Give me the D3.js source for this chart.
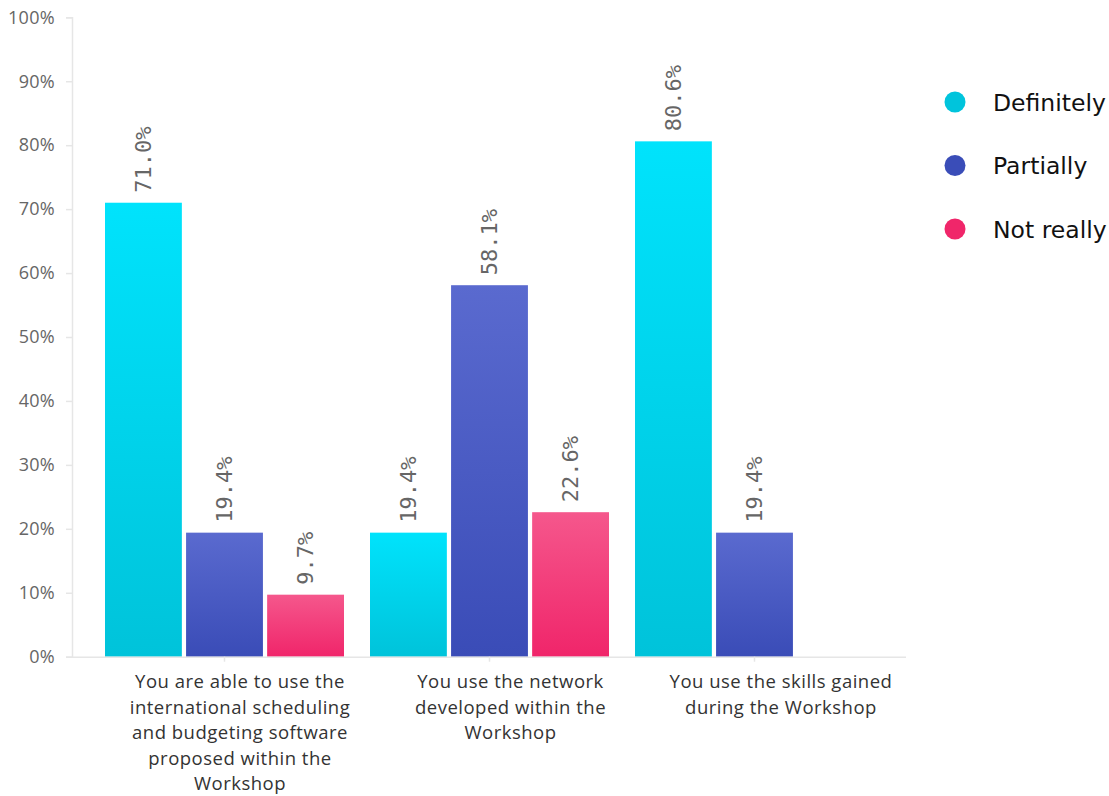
<!DOCTYPE html>
<html>
<head>
<meta charset="utf-8">
<script src="https://cdn.jsdelivr.net/npm/d3@7/dist/d3.min.js"></script>
<style>
  html, body { margin: 0; padding: 0; background: #fff; }
  svg { display: block; }
</style>
</head>
<body>
<svg id="chart" width="1109" height="796"></svg>
<script>
// Survey questions (x categories), answer series and their values (%)
const categories = [
  ["You are able to use the", "international scheduling", "and budgeting software", "proposed within the", "Workshop"],
  ["You use the network", "developed within the", "Workshop"],
  ["You use the skills gained", "during the Workshop"]
];
const seriesNames = ["Definitely", "Partially", "Not really"];
const definitely = [71.0, 19.4, 80.6];
const partially  = [19.4, 58.1, 19.4];
const notReally  = [9.7, 22.6, null];
const yTicks = [0, 10, 20, 30, 40, 50, 60, 70, 80, 90, 100];

const seriesValues = [definitely, partially, notReally];
const colors = [
  { top: "#00e3fc", bottom: "#00c3da", solid: "#00c4dc" },
  { top: "#5a6acf", bottom: "#3a4cb7", solid: "#3a4db8" },
  { top: "#f5578c", bottom: "#f0256a", solid: "#f0266a" }
];

const svg = d3.select("#chart");
const axisLeft = 72, axisRight = 906;
const yTop = 17.3, yBottom = 656.7;

const x0 = d3.scaleBand().domain(d3.range(categories.length)).range([92, 887]).paddingInner(0).paddingOuter(0);
const x1 = d3.scaleBand().domain(d3.range(seriesNames.length)).range([13, x0.bandwidth() - 13]).paddingInner(0.052);
const y = d3.scaleLinear().domain([0, 100]).range([yBottom, yTop]);
// Category label anchors (labels sit slightly right of their tick marks)
const xLabel = d3.scalePoint().domain(d3.range(categories.length)).range([240, 781]);

// Vertical gradients for each series
const defs = svg.append("defs");
colors.forEach((c, i) => {
  const g = defs.append("linearGradient").attr("id", "grad" + i)
    .attr("x1", 0).attr("y1", 0).attr("x2", 0).attr("y2", 1);
  g.append("stop").attr("offset", "0%").attr("stop-color", c.top);
  g.append("stop").attr("offset", "100%").attr("stop-color", c.bottom);
});

// Y axis
const yAxis = svg.append("g")
  .attr("transform", `translate(${axisLeft},0)`)
  .call(d3.axisLeft(y).tickValues(yTicks).tickFormat(d => d + "%").tickSize(6).tickPadding(11));
yAxis.select(".domain").attr("stroke", "#e6e6e6").attr("stroke-width", 1.5);
yAxis.selectAll(".tick line").attr("stroke", "#e6e6e6").attr("stroke-width", 1.5);
yAxis.selectAll(".tick text")
  .attr("fill", "#666")
  .style("font-family", "'Open Sans', 'Noto Sans', sans-serif")
  .style("font-size", "18px")
  .style("letter-spacing", "0.3px");

// Bars
const groups = svg.append("g").selectAll("g")
  .data(categories.map((c, i) => i))
  .join("g")
  .attr("transform", i => `translate(${x0(i)},0)`);

groups.each(function(ci) {
  const g = d3.select(this);
  seriesValues.forEach((vals, si) => {
    const v = vals[ci];
    if (v == null) return;
    g.append("rect")
      .attr("x", x1(si))
      .attr("width", x1.bandwidth())
      .attr("y", y(v))
      .attr("height", y(0) - y(v))
      .attr("fill", `url(#grad${si})`);
    const lx = x1(si) + x1.bandwidth() / 2;
    const ly = y(v) - 10;
    g.append("text")
      .attr("transform", `translate(${lx + 7.5},${ly}) rotate(-90)`)
      .attr("text-anchor", "start")
      .attr("fill", "#666")
      .style("font-family", "'DejaVu Sans Mono', monospace")
      .style("font-size", "22px")
      .text(v.toFixed(1) + "%");
  });
});

// Baseline and category ticks
svg.append("line")
  .attr("x1", axisLeft).attr("x2", axisRight)
  .attr("y1", yBottom + 0.5).attr("y2", yBottom + 0.5)
  .attr("stroke", "#e6e6e6").attr("stroke-width", 1.5);
categories.forEach((c, i) => {
  const cx = x0(i) + x0.bandwidth() / 2;
  svg.append("line")
    .attr("x1", cx).attr("x2", cx)
    .attr("y1", yBottom).attr("y2", yBottom + 5)
    .attr("stroke", "#e6e6e6").attr("stroke-width", 1.5);
  const lx = xLabel(i);
  const t = svg.append("text")
    .attr("text-anchor", "middle")
    .attr("fill", "#333")
    .style("font-family", "'Open Sans', 'Noto Sans', sans-serif")
    .style("font-size", "18.5px")
    .style("letter-spacing", "0.5px");
  c.forEach((line, li) => {
    t.append("tspan").attr("x", lx).attr("y", 688 + li * 25.6).text(line);
  });
});

// Legend
const legend = svg.append("g");
seriesNames.forEach((name, i) => {
  const ly = 102 + i * 63.5;
  legend.append("circle").attr("cx", 955).attr("cy", ly).attr("r", 10.5).attr("fill", colors[i].solid);
  legend.append("text")
    .attr("x", 993).attr("y", ly + 8.5)
    .attr("fill", "#111")
    .style("font-family", "'DejaVu Sans', sans-serif")
    .style("font-size", "23.5px")
    .text(name);
});
</script>
</body>
</html>
